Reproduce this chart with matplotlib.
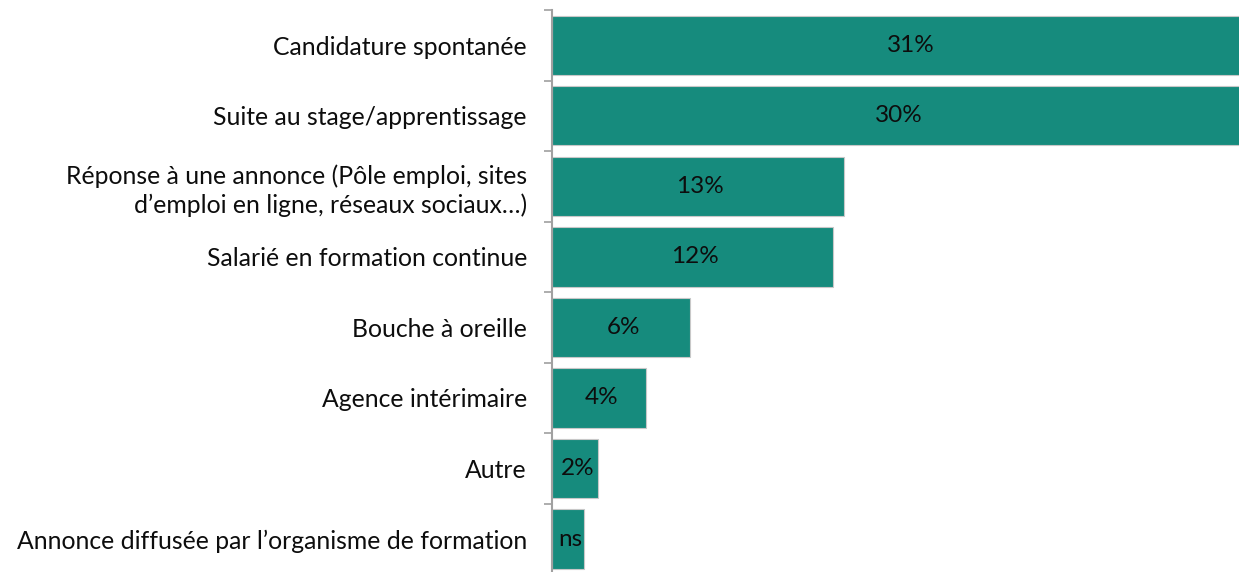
import numpy as np
import matplotlib.pyplot as plt

# data
categories = [
    "Candidature spontanée",
    "Suite au stage/apprentissage",
    "Réponse à une annonce (Pôle emploi, sites\nd\u2019emploi en ligne, réseaux sociaux\u2026)",
    "Salarié en formation continue",
    "Bouche à oreille",
    "Agence intérimaire",
    "Autre",
    "Annonce diffusée par l\u2019organisme de formation",
]
values = [31.0, 30.0, 12.7, 12.2, 6.0, 4.1, 2.0, 1.4]
value_labels = ["31%", "30%", "13%", "12%", "6%", "4%", "2%", "ns"]

bar_color = "#168B7D"
plt.rcParams['font.family'] = ['Lato', 'DejaVu Sans']

fig = plt.figure(figsize=(12.39, 5.72), dpi=100)
ax = fig.add_axes([0.4455, -0.004, 0.5545, 0.9865])

y = np.arange(len(categories))
ax.barh(y, values, height=0.84, color=bar_color, edgecolor="#C8C8C8", linewidth=0.8)

for yi, v, lab in zip(y, values, value_labels):
    ax.text(v / 2 + 0.1, yi, lab, ha="center", va="center", fontsize=17.5, color="#0d0d0d")

ax.set_xlim(0, 29.87)
ax.set_ylim(len(categories) - 0.5, -0.5)

# tick marks at category boundaries, labels at centers
ax.set_yticks(np.arange(len(categories) + 1) - 0.5)
ax.set_yticklabels([])
ax.set_yticks(y, minor=True)
ax.set_yticklabels(categories, minor=True, fontsize=17.8, color="#0d0d0d", ha="right",
                   linespacing=1.25)
ax.tick_params(axis="y", which="major", length=6, width=1.2, color="#A0A0A0")
ax.tick_params(axis="y", which="minor", length=0, pad=18)
ax.set_xticks([])

for s in ["top", "right", "bottom"]:
    ax.spines[s].set_visible(False)
ax.spines["left"].set_color("#A0A0A0")
ax.spines["left"].set_linewidth(1.5)

fig.savefig("out.png", dpi=100)
